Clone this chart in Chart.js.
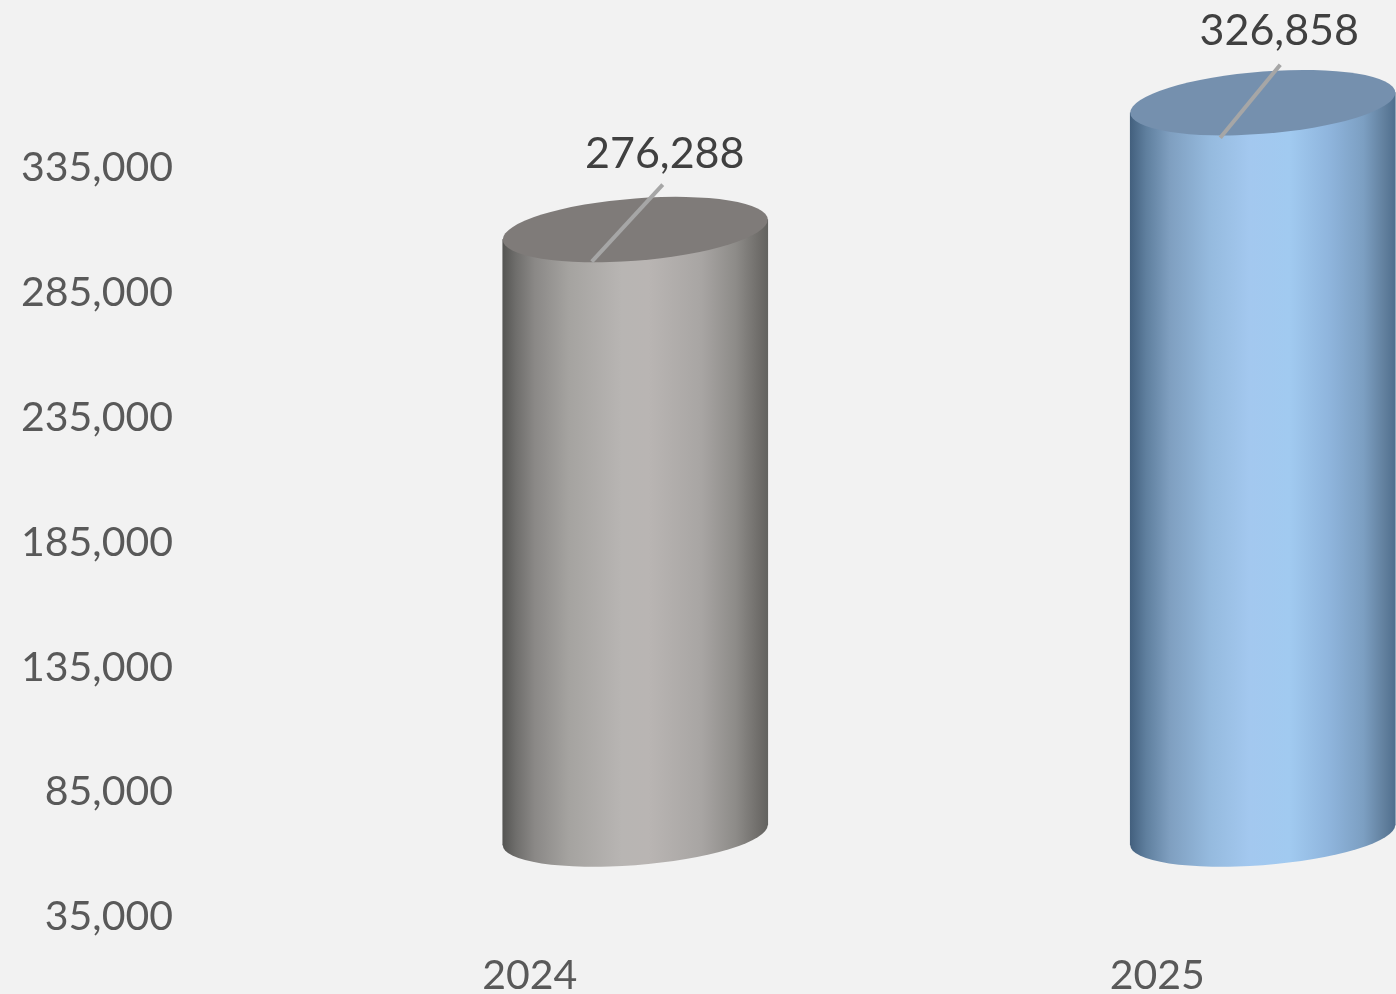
<!DOCTYPE html>
<html lang="en">

<head>
    <meta charset="UTF-8">
    <title>2024 vs 2025</title>
    <script src="https://cdn.jsdelivr.net/npm/chart.js"></script>
    <style>
        * {
            margin: 0;
            padding: 0;
        }

        html, body {
            background-color: #f2f2f2;
            overflow: hidden;
        }

        /* the right cylinder runs off the edge of the picture, so the canvas is wider than the page */
        #wrap {
            width: 1396px;
            height: 994px;
            overflow: hidden;
        }

        canvas {
            display: block;
            filter: blur(0.6px);
        }
    </style>
</head>

<body>
    <div id="wrap">
        <canvas id="myChart" width="1500" height="994"></canvas>
    </div>

    <script>
        const years = ['2024', '2025'];
        const values = [276288, 326858];
        const yMin = 35000;
        const yMax = 335000;
        const yStep = 50000;

        const greyBody = [[0, '#555553'], [0.05, '#6f6e6c'], [0.12, '#8a8886'], [0.25, '#a5a3a0'], [0.45, '#b8b5b3'],
            [0.55, '#b9b5b3'], [0.75, '#a8a5a3'], [0.88, '#8d8b88'], [0.97, '#6e6c69'], [1, '#636360']];
        const blueBody = [[0, '#43607e'], [0.06, '#5f7f9e'], [0.15, '#7f9fc0'], [0.3, '#95bade'], [0.45, '#a3c8ef'],
            [0.6, '#a1caf0'], [0.75, '#8fb5dd'], [0.88, '#7c9fc2'], [0.96, '#617f9d'], [1, '#4f6f8e']];
        const bodyStops = [greyBody, blueBody];
        const capColors = ['#7f7b79', '#7590ae'];

        const barWidth = 265;
        const capHeight = 31;      // half height of the ellipses before the tilt
        const tilt = -20 / 265;    // the right side of each cylinder sits 20px above the left
        const depthX = 105.5;      // 3d offset of the cylinders from their axis position
        const depthY = -71;
        const stretch = 1.005;     // the 3d view makes the bars a little taller than the axis spacing

        // [label x, label y, leader start x, leader start y, leader end x, leader end y], from the cylinder's top left corner
        const labelOffsets = [
            [162, -85, 160, -55, 89, 22],
            [149, -82, 150, -48, 90, 25]
        ];

        function bodyGradient(c) {
            const chart = c.chart;
            if (!chart.chartArea) return '#999';
            const center = chart.scales.x.getPixelForValue(c.dataIndex);
            const g = chart.ctx.createLinearGradient(center - barWidth / 2, 0, center + barWidth / 2, 0);
            bodyStops[c.dataIndex].forEach(s => g.addColorStop(s[0], s[1]));
            return g;
        }

        const cylinders = {
            id: 'cylinders',
            beforeDatasetDraw(chart, args) {
                const ctx = chart.ctx;
                args.meta.data.forEach((el, i) => {
                    const left = el.x - barWidth / 2;

                    ctx.save();
                    ctx.transform(1, tilt, 0, stretch, depthX, el.base + depthY - tilt * left - stretch * el.base);

                    ctx.fillStyle = el.options.backgroundColor;
                    ctx.beginPath();
                    ctx.ellipse(el.x, el.base, barWidth / 2, capHeight - 1, 0, 0, Math.PI * 2);
                    ctx.fill();

                    el.draw(ctx);

                    ctx.fillStyle = capColors[i];
                    ctx.beginPath();
                    ctx.ellipse(el.x, el.y, barWidth / 2, capHeight, 0, 0, Math.PI * 2);
                    ctx.fill();
                    ctx.restore();

                    // leader line and value
                    const x0 = left + depthX;
                    const y0 = el.base + depthY - stretch * (el.base - el.y);
                    const off = labelOffsets[i];

                    ctx.save();
                    ctx.strokeStyle = '#a6a6a6';
                    ctx.lineWidth = 4;
                    ctx.beginPath();
                    ctx.moveTo(x0 + off[2], y0 + off[3]);
                    ctx.lineTo(x0 + off[4], y0 + off[5]);
                    ctx.stroke();

                    ctx.fillStyle = '#404040';
                    ctx.font = '43px Lato';
                    ctx.textAlign = 'center';
                    ctx.textBaseline = 'middle';
                    ctx.fillText(values[i].toLocaleString('en-US'), x0 + off[0], y0 + off[1]);
                    ctx.restore();
                });
                return false;
            }
        };

        new Chart(document.getElementById('myChart'), {
            type: 'bar',
            data: {
                labels: years,
                datasets: [{
                    data: values,
                    base: yMin,
                    backgroundColor: bodyGradient,
                    barThickness: barWidth,
                    borderWidth: 0
                }]
            },
            options: {
                responsive: false,
                animation: false,
                layout: {
                    padding: { top: 167, right: 29 }
                },
                plugins: {
                    legend: { display: false },
                    tooltip: { enabled: false }
                },
                scales: {
                    x: {
                        grid: { display: false, drawTicks: false },
                        border: { display: false },
                        afterFit(scale) { scale.height = 78; },
                        ticks: {
                            padding: 35,
                            color: '#595959',
                            font: { family: 'Lato', size: 41 }
                        }
                    },
                    y: {
                        min: yMin,
                        max: yMax,
                        grid: { display: false, drawTicks: false },
                        border: { display: false },
                        afterFit(scale) { scale.width = 216; },
                        ticks: {
                            stepSize: yStep,
                            padding: 43,
                            labelOffset: 1,
                            color: '#595959',
                            font: { family: 'Lato', size: 41 },
                            callback: v => v.toLocaleString('en-US')
                        }
                    }
                }
            },
            plugins: [cylinders]
        });
    </script>
</body>

</html>
